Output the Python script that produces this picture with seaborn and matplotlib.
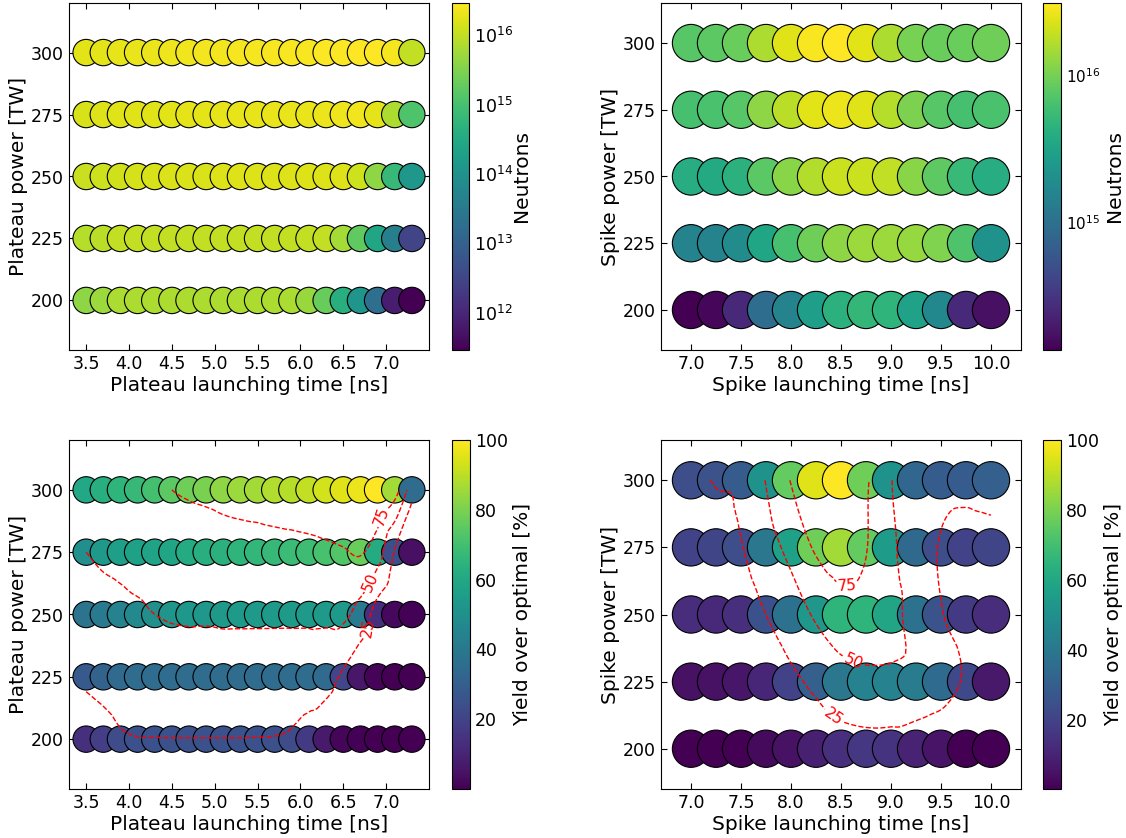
import numpy as np
import pandas as pd
import seaborn as sns
import matplotlib.pyplot as plt
import matplotlib.tri as mtri
from matplotlib.colors import LogNorm, Normalize
from matplotlib.cm import ScalarMappable

sns.set_style('ticks', {'xtick.direction': 'in', 'ytick.direction': 'in',
                        'axes.edgecolor': 'black', 'text.color': 'black',
                        'axes.labelcolor': 'black', 'xtick.color': 'black', 'ytick.color': 'black'})
plt.rcParams['font.family'] = ['DejaVu Sans']

# 网格：发射时间 [ns] 与功率 [TW]
plateau_time = [3.5, 3.7, 3.9, 4.1, 4.3, 4.5, 4.7, 4.9, 5.1, 5.3,
                5.5, 5.7, 5.9, 6.1, 6.3, 6.5, 6.7, 6.9, 7.1, 7.3]
spike_time = [7.0, 7.25, 7.5, 7.75, 8.0, 8.25, 8.5, 8.75, 9.0, 9.25, 9.5, 9.75, 10.0]
powers = [200, 225, 250, 275, 300]

# 产额 / 最优产额 [%]，每个功率一行
plateau_200 = [14, 18, 23, 24.6, 24.7, 24.8, 24.8, 24.8, 24.8, 24.8,
               24.7, 24.5, 23, 17, 7, 1.4, 0.4, 0.06, 0.0025, 0.001]
plateau_225 = [28, 31, 34, 35, 35, 35, 35, 35, 35, 35,
               35, 35, 35, 35, 34, 21, 6, 0.9, 0.14, 0.01]
plateau_250 = [38, 41, 44, 47, 50, 52, 53, 53, 54, 54,
               54, 54, 54, 54, 54, 54, 41, 14, 2.2, 0.45]
plateau_275 = [50, 54, 56, 57, 58, 59, 61, 63, 64, 65,
               66, 67, 68, 69, 71, 73, 77, 61, 24, 4]
plateau_300 = [60, 63, 65, 67, 70, 75, 78, 80, 83, 85,
               86, 88, 89, 91, 93, 95, 97, 100, 86, 35]

spike_200 = [0.44, 0.48, 0.8, 3, 5, 9, 14, 16, 15, 10, 5.5, 0.8, 0.55]
spike_225 = [5, 5, 6, 11, 20, 30, 40, 44, 44, 42, 35, 22, 7]
spike_250 = [13, 12, 14, 25, 38, 53, 65, 65, 59, 38, 26, 17, 13]
spike_275 = [20, 21, 24, 40, 57, 78, 86, 76, 55, 34, 24, 20, 21]
spike_300 = [24, 25.5, 29, 51, 76, 95, 100, 78, 51, 33, 29, 29, 30]

# 最优中子产额
plateau_best = 2.9e16
spike_best = 3.1e16

contour_levels = [25, 50, 75]
# 等值线标签位置
plateau_label_pos = [(6.97, 289), (6.88, 262), (6.95, 244)]
spike_label_pos = [(8.55, 262), (8.6, 231), (8.45, 213)]


def to_frame(times, rows, best):
    recs = []
    for p, row in zip(powers, rows):
        for t, v in zip(times, row):
            recs.append((t, p, v, v / 100 * best))
    return pd.DataFrame(recs, columns=['time', 'power', 'pct', 'neutrons'])


plateau = to_frame(plateau_time, [plateau_200, plateau_225, plateau_250, plateau_275, plateau_300], plateau_best)
spike = to_frame(spike_time, [spike_200, spike_225, spike_250, spike_275, spike_300], spike_best)

W, H = 1126, 838
fig = plt.figure(figsize=(W / 100, H / 100), dpi=100)


def rect(l, r, t, b):
    return [l / W, 1 - b / H, (r - l) / W, (b - t) / H]


def smooth_contour(ax, df, label_pos):
    # 在归一化网格上三次插值，使等值线更平滑
    tx = np.sort(df['time'].unique())
    dx = tx[1] - tx[0]
    x0, y0 = tx[0], powers[0]
    u = (df['time'].values - x0) / dx
    v = (df['power'].values - y0) / 25.0
    tri = mtri.Triangulation(u, v)
    refiner = mtri.UniformTriRefiner(tri)
    interp = mtri.CubicTriInterpolator(tri, df['pct'].values, kind='geom')
    fine, zf = refiner.refine_field(df['pct'].values, triinterpolator=interp, subdiv=3)
    fine = mtri.Triangulation(fine.x * dx + x0, fine.y * 25.0 + y0, fine.triangles)
    cs = ax.tricontour(fine, zf, levels=contour_levels, colors='red',
                       linestyles='--', linewidths=1, zorder=3)
    ax.clabel(cs, fmt='%d', fontsize=11, manual=label_pos)


def panel(box, cbox, df, col, norm, size, xlim, ylim, xticks, xlabel, ylabel, clabel,
          label_pos=None, cpad=4, csize=12.5):
    ax = fig.add_axes(rect(*box))
    cax = fig.add_axes(rect(*cbox))
    sns.scatterplot(data=df, x='time', y='power', hue=col, hue_norm=norm, palette='viridis',
                    s=size, edgecolor='black', linewidth=0.8, legend=False, ax=ax, zorder=2)
    if label_pos is not None:
        smooth_contour(ax, df, label_pos)
    ax.set_xlim(*xlim)
    ax.set_ylim(*ylim)
    ax.set_xticks(xticks)
    ax.set_yticks(powers)
    ax.tick_params(top=True, right=True, direction='in', labelsize=12.5, length=4)
    ax.set_xlabel(xlabel, fontsize=14.5, labelpad=2)
    ax.set_ylabel(ylabel, fontsize=14.5, labelpad=2)
    sm = ScalarMappable(norm=norm, cmap='viridis')
    cb = fig.colorbar(sm, cax=cax)
    cb.ax.tick_params(labelsize=csize, direction='in')
    cb.ax.tick_params(which='minor', direction='in', length=2)
    cb.set_label(clabel, fontsize=14.5, labelpad=cpad)
    return ax


p_x = [3.5, 4.0, 4.5, 5.0, 5.5, 6.0, 6.5, 7.0]
s_x = [7.0, 7.5, 8.0, 8.5, 9.0, 9.5, 10.0]

panel((69, 429, 3, 350), (452, 469, 3, 350), plateau, 'neutrons',
      LogNorm(plateau['neutrons'].min(), plateau['neutrons'].max()), 360,
      (3.3, 7.5), (180, 320), p_x, 'Plateau launching time [ns]', 'Plateau power [TW]', 'Neutrons',
      cpad=-1)
panel((661, 1021, 3, 350), (1043, 1061, 3, 350), spike, 'neutrons',
      LogNorm(spike['neutrons'].min(), spike['neutrons'].max()), 720,
      (6.7, 10.3), (185, 315), s_x, 'Spike launching time [ns]', 'Spike power [TW]', 'Neutrons',
      cpad=3, csize=11)
panel((69, 429, 440, 789), (452, 470, 440, 789), plateau, 'pct',
      Normalize(plateau['pct'].min(), 100), 360,
      (3.3, 7.5), (180, 320), p_x, 'Plateau launching time [ns]', 'Plateau power [TW]',
      'Yield over optimal [%]', label_pos=plateau_label_pos)
panel((661, 1021, 440, 789), (1043, 1061, 440, 789), spike, 'pct',
      Normalize(spike['pct'].min(), 100), 720,
      (6.7, 10.3), (185, 315), s_x, 'Spike launching time [ns]', 'Spike power [TW]',
      'Yield over optimal [%]', label_pos=spike_label_pos)

fig.savefig('out.png', dpi=100)
